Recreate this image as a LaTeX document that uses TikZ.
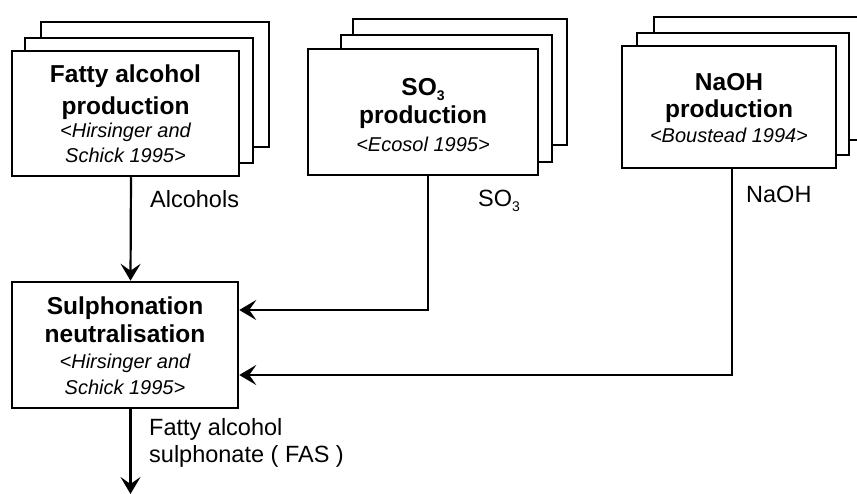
\documentclass[tikz,border=0pt]{standalone}
\usepackage{fontspec}
\setmainfont{Liberation Sans}
\usetikzlibrary{arrows.meta}
\newcommand{\subtxt}[1]{\raisebox{-0.2em}{\fontsize{14}{14}\selectfont #1}}
\begin{document}
\begin{tikzpicture}[x=1pt,y=-1pt,
  boxline/.style={draw, line width=2.5pt, fill=white},
  frontbox/.style={draw, line width=2.5pt, fill=white, inner sep=0pt, rectangle},
  ttl/.style={font=\fontsize{24.5}{28}\bfseries\selectfont, inner sep=0pt, anchor=base},
  refl/.style={font=\fontsize{20}{24}\itshape\selectfont, inner sep=0pt, anchor=base},
  lbl/.style={font=\fontsize{23.5}{27}\selectfont, inner sep=0pt, anchor=base west},
  flow/.style={line width=2.2pt, -{Stealth[length=17pt,width=20pt,inset=7pt]}}]
\useasboundingbox (0,0) rectangle (857,494);
\clip (0,0) rectangle (857,494);
\fill[white] (0,0) rectangle (857,494);

% Fatty alcohol production stack
\draw[boxline] (41,22) rectangle (269,147);
\draw[boxline] (25,38) rectangle (253,163);
\node[frontbox, minimum width=227pt, minimum height=125pt] (fa) at (125.5,113.5) {};
\node[ttl] (fa1) at (125.5,83) {Fatty alcohol};
\node[ttl] (fa2) at (125.5,115) {production};
\node[refl] (fa3) at (125.5,138) {<Hirsinger and};
\node[refl] (fa4) at (125.5,163) {Schick 1995>};

% SO3 production stack
\draw[boxline] (353,19) rectangle (567,145);
\draw[boxline] (341,35) rectangle (552,162);
\node[frontbox, minimum width=230pt, minimum height=126pt] (so) at (423,112) {};
\node[ttl] (so1) at (423,96) {SO\subtxt{3}};
\node[ttl] (so2) at (423,124) {production};
\node[refl] (so3) at (423,152) {<Ecosol 1995>};

% NaOH production stack
\draw[boxline] (654,17) rectangle (875,140);
\draw[boxline] (637,33) rectangle (849,155);
\node[frontbox, minimum width=214pt, minimum height=122pt] (na) at (729,107) {};
\node[ttl] (na1) at (729,91) {NaOH};
\node[ttl] (na2) at (729,118) {production};
\node[refl] (na3) at (729,143) {<Boustead 1994>};

% Sulphonation neutralisation
\node[frontbox, minimum width=226pt, minimum height=126pt] (sp) at (125,345) {};
\node[ttl] (sp1) at (125,315) {Sulphonation};
\node[ttl] (sp2) at (125,342) {neutralisation};
\node[refl] (sp3) at (125,368) {<Hirsinger and};
\node[refl] (sp4) at (125,395) {Schick 1995>};

% connectors
\coordinate (out) at (130.5,494);
\draw[flow] ([xshift=5.5pt]fa.south) -- ([xshift=5.5pt]sp.north);
\draw[flow] ([xshift=5pt]so.south) |- ([yshift=35pt]sp.east);
\draw[flow] ([xshift=3pt]na.south) |- ([yshift=-30pt]sp.east);
\draw[flow] ([xshift=5.5pt]sp.south) -- (out);

% labels
\node[lbl] (l1) at (150,208) {Alcohols};
\node[lbl] (l2) at (478,207) {SO\subtxt{3}};
\node[lbl] (l3) at (746,203) {NaOH};
\node[lbl] (l4) at (149,435) {Fatty alcohol};
\node[lbl] (l5) at (149,462) {sulphonate ( FAS )};
\end{tikzpicture}
\end{document}
